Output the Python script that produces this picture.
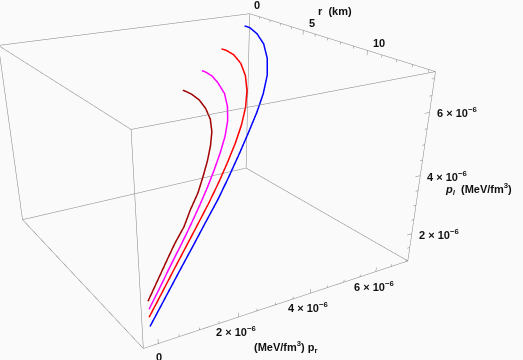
import numpy as np, plotly.graph_objects as go

# axis ranges: r in km, pressures in units of 1e-6 MeV/fm^3
R_RANGE = [0, 14.4]
PR_RANGE = [-0.35, 7.05]
PL_RANGE = [1.0, 7.2]

r_blue = [0.0,0.7,1.5,2.4,3.2,4.0,4.9,5.8,6.6,7.5,8.4,9.2,10.1,11.0,11.9,12.8,13.7]
pr_blue = [6.88,6.82,6.80,6.72,6.57,6.30,5.87,5.36,4.84,4.27,3.68,3.11,2.48,1.86,1.24,0.62,0.00]
pl_blue = [6.78,6.81,6.69,6.45,6.07,5.63,5.21,4.80,4.37,3.96,3.54,3.10,2.73,2.37,2.02,1.66,1.30]
r_red = [0.0,0.7,1.5,2.4,3.2,4.0,4.9,5.8,6.6,7.5,8.4,9.2,10.1,11.0,11.9,12.8,13.7]
pr_red = [6.10,6.04,6.03,5.97,5.86,5.65,5.31,4.89,4.44,3.92,3.38,2.85,2.27,1.70,1.13,0.56,-0.01]
pl_red = [6.05,6.10,6.05,5.88,5.58,5.21,4.84,4.48,4.09,3.75,3.41,3.05,2.74,2.46,2.18,1.89,1.61]
r_magenta = [0.0,0.7,1.5,2.3,3.2,4.0,4.9,5.8,6.6,7.5,8.4,9.2,10.1,11.0,11.9,12.8,13.7]
pr_magenta = [5.44,5.35,5.32,5.26,5.19,5.03,4.75,4.38,3.98,3.52,3.04,2.57,2.06,1.55,1.03,0.52,0.00]
pl_magenta = [5.35,5.42,5.40,5.29,5.06,4.76,4.47,4.17,3.85,3.57,3.29,2.99,2.74,2.52,2.31,2.09,1.87]
r_dark = [0.0,0.7,1.5,2.3,3.2,4.0,4.9,5.7,6.6,7.4,8.3,9.2,10.1,10.9,11.8,12.7,13.6]
pr_dark = [4.80,4.70,4.66,4.66,4.59,4.49,4.26,3.97,3.60,3.23,2.81,2.33,1.89,1.42,0.95,0.48,0.01]
pl_dark = [4.73,4.82,4.85,4.78,4.64,4.42,4.19,3.92,3.67,3.41,3.17,2.96,2.76,2.59,2.43,2.26,2.09]

r_major = [0, 5, 10]
r_minor = [1,2,3,4,6,7,8,9,11,12,13,14]
pr_major = [0, 2, 4, 6]
pr_minor = [0.5,1,1.5,2.5,3,3.5,4.5,5,5.5,6.5,7]
pl_major = [2, 4, 6]
pl_minor = [1.5,2.5,3,3.5,4.5,5,5.5,6.5,7]

W, H, LEFT, TOP = 622, 648, -98, -21
GRAY = '#808080'
xl, yl, zl = R_RANGE, PR_RANGE, PL_RANGE
PAD = [0.02, 0.01, 0.01]

fig = go.Figure()
ex, ey, ez = [], [], []
def seg(a, b):
    ex.extend([a[0], b[0], None]); ey.extend([a[1], b[1], None]); ez.extend([a[2], b[2], None])
for y in yl:
    for z in zl:
        seg((xl[0], y, z), (xl[1], y, z))
for x in xl:
    for z in zl:
        seg((x, yl[0], z), (x, yl[1], z))
for x in xl:
    for y in yl:
        seg((x, y, zl[0]), (x, y, zl[1]))
for v, n in [(t, .15) for t in r_major] + [(t, .08) for t in r_minor]:
    seg((v, yl[1], zl[1]), (v, yl[1], zl[1] - n))
for v, n in [(t, .15) for t in pr_major] + [(t, .08) for t in pr_minor]:
    seg((xl[1], v, zl[0]), (xl[1], v, zl[0] + n))
for v, n in [(t, .15) for t in pl_major] + [(t, .08) for t in pl_minor]:
    seg((xl[1], yl[1], v), (xl[1], yl[1] - n, v))
fig.add_trace(go.Scatter3d(x=ex, y=ey, z=ez, mode='lines', line=dict(color=GRAY, width=1), hoverinfo='skip', showlegend=False))

for rv, xv, zv, c in [(r_blue, pr_blue, pl_blue, '#0000ff'), (r_red, pr_red, pl_red, '#ff0000'),
                      (r_magenta, pr_magenta, pl_magenta, '#ff00ff'), (r_dark, pr_dark, pl_dark, '#a00000')]:
    fig.add_trace(go.Scatter3d(x=rv, y=xv, z=zv, mode='lines', line=dict(color=c, width=3), hoverinfo='skip', showlegend=False))

FONT = dict(family='Liberation Sans', size=11, color='#111111')
def sci(v):
    return f'<b>{v} × 10<sup>−6</sup></b>'
ann = []
def note(x, y, z, text, xs, ys, anchor='center'):
    ann.append(dict(x=x, y=y, z=z, text=text, showarrow=False, xshift=xs, yshift=ys, xanchor=anchor, yanchor='middle', font=FONT))
note(0, yl[1], zl[1], '<b>0</b>', 7, 9)
note(5, yl[1], zl[1], '<b>5</b>', 9, 7)
note(10, yl[1], zl[1], '<b>10</b>', 12, 7)
note(6.5, yl[1], zl[1], '<b>r  (km)</b>', 14, 25)
note(xl[1], 0, zl[0], '<b>0</b>', 1, -13)
for v in pr_major[1:]:
    note(xl[1], v, zl[0], sci(v), -2, -14)
note(xl[1], 3.0, zl[0], '<b>(MeV/fm<sup>3</sup>) p<sub>r</sub></b>', 11, -42)
for v in pl_major:
    note(xl[1], yl[1], v, sci(v), 5, 0, 'left')
note(xl[1], yl[1], 3.2, '<b><i>p<sub>l</sub></i>  (MeV/fm<sup>3</sup>)</b>', 26, 10, 'left')

ranges = [[a - d, b + d] for (a, b), d in zip((xl, yl, zl), PAD)]
asp = [1.5623 * (ranges[0][1] - ranges[0][0]) / (xl[1] - xl[0]),
       1.5760 * (ranges[1][1] - ranges[1][0]) / (yl[1] - yl[0]),
       (ranges[2][1] - ranges[2][0]) / (zl[1] - zl[0])]
fig.update_layout(width=W, height=H, margin=dict(l=0, r=0, t=0, b=0), paper_bgcolor='#fafafa',
    scene=dict(xaxis=dict(visible=False, range=ranges[0]), yaxis=dict(visible=False, range=ranges[1]), zaxis=dict(visible=False, range=ranges[2]),
        annotations=ann, bgcolor='#fafafa',
        aspectmode='manual', aspectratio=dict(x=asp[0], y=asp[1], z=asp[2]),
        camera=dict(eye=dict(x=3.3821, y=-2.0112, z=1.4687), center=dict(x=0.3216, y=-0.1467, z=-0.7048), up=dict(x=-0.0155, y=0.0037, z=1)),
        domain=dict(x=[0, 1], y=[0, 1])))
fig.write_html('out.html', config={'displayModeBar': False},
    post_script="document.documentElement.style.overflow='hidden';document.body.style.margin='0';document.body.style.overflow='hidden';var g=document.querySelector('.plotly-graph-div');g.style.position='absolute';g.style.left='%dpx';g.style.top='%dpx';" % (LEFT, TOP))
